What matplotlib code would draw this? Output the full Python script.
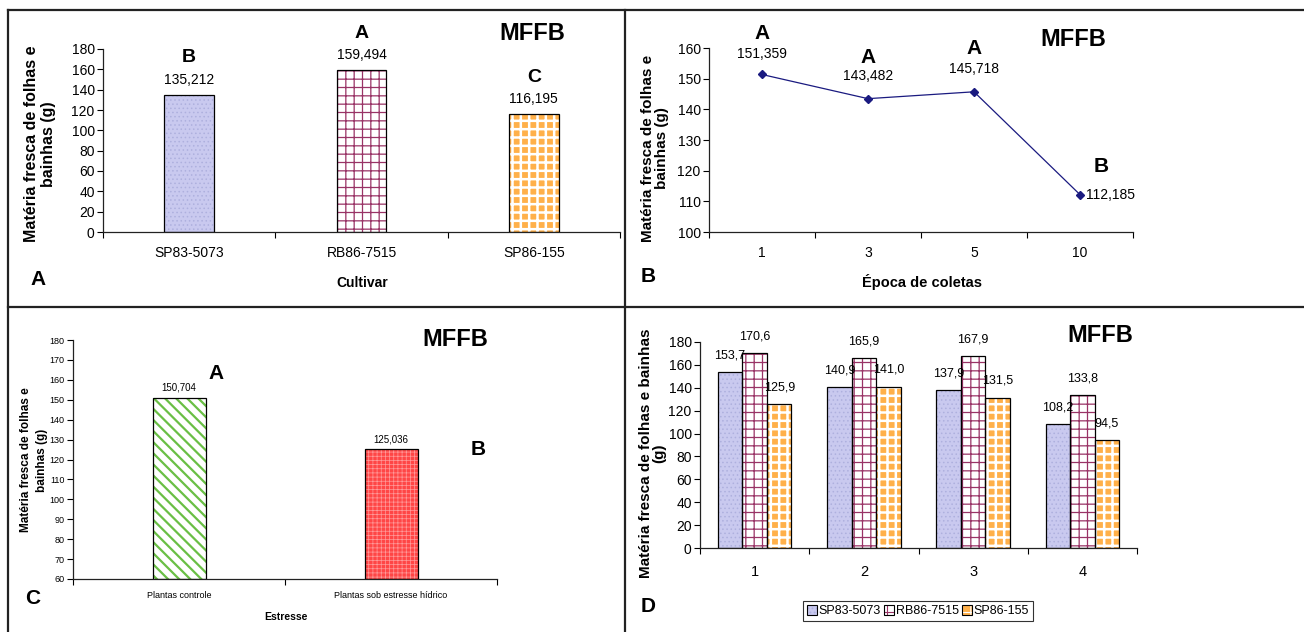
import matplotlib
matplotlib.use('Agg')
import matplotlib.pyplot as plt
from matplotlib.lines import Line2D
from matplotlib.patches import Patch
from matplotlib.legend_handler import HandlerTuple

plt.rcParams['font.family'] = ['Liberation Sans', 'DejaVu Sans']
plt.rcParams['hatch.linewidth'] = 0.8
NARROW = ['Liberation Sans Narrow', 'Liberation Sans', 'DejaVu Sans']

# data
cultivars = ['SP83-5073', 'RB86-7515', 'SP86-155']
mffb_cultivar = [135.212, 159.494, 116.195]
letters_cultivar = ['B', 'A', 'C']

epocas = ['1', '3', '5', '10']
mffb_epoca = [151.359, 143.482, 145.718, 112.185]
letters_epoca = ['A', 'A', 'A', 'B']

estresse = ['Plantas controle', 'Plantas sob estresse hídrico']
mffb_estresse = [150.704, 125.036]
letters_estresse = ['A', 'B']

grupos = ['1', '2', '3', '4']
mffb_sp83 = [153.7, 140.9, 137.9, 108.2]
mffb_rb86 = [170.6, 165.9, 167.9, 133.8]
mffb_sp86 = [125.9, 141.0, 131.5, 94.5]

W, H = 1304, 632
fig = plt.figure(figsize=(W / 100, H / 100), dpi=100)


def box(x0, y0, x1, y1):
    return [x0 / W, 1 - y1 / H, (x1 - x0) / W, (y1 - y0) / H]


def fx(x):
    return x / W


def fy(y):
    return 1 - y / H


def comma(v, d):
    return f'{v:.{d}f}'.replace('.', ',')


# styles: (face, hatch, hatch colour, hatch linewidth)
styles = {
    'SP83-5073': ('#c9c9ef', '....', '#aeb0de', 0.6),
    'RB86-7515': ('white', '++', '#993366', 0.9),
    'SP86-155': ('#ffb04a', '++', 'white', 1.8),
}


def set_hlw(p, hlw):
    try:
        p.set_hatch_linewidth(hlw)
    except AttributeError:
        pass


def hbar(ax, x, h, w, style, bottom=0):
    face, hatch, hcol, hlw = style
    bars = ax.bar(x, h, w, bottom=bottom, color=face, hatch=hatch, edgecolor=hcol,
                  linewidth=0, zorder=2)
    for b in bars:
        set_hlw(b, hlw)
    ax.bar(x, h, w, bottom=bottom, fill=False, edgecolor='black', linewidth=0.9, zorder=3)
    return bars


def excel_axes(ax, n, fs, family=None):
    ax.spines['top'].set_visible(False)
    ax.spines['right'].set_visible(False)
    for s in ('left', 'bottom'):
        ax.spines[s].set_linewidth(0.9)
        ax.spines[s].set_color('#222222')
    ax.set_xlim(-0.5, n - 0.5)
    ax.set_xticks([i - 0.5 for i in range(n + 1)])
    ax.set_xticklabels([])
    ax.tick_params(axis='x', which='major', length=4, direction='out', width=0.8)
    ax.set_xticks(range(n), minor=True)
    ax.tick_params(axis='x', which='minor', length=0, pad=10)
    ax.tick_params(axis='y', length=4, direction='out', width=0.8, labelsize=fs, pad=2)
    fam = family if family else plt.rcParams['font.family']
    for lab in ax.get_yticklabels():
        lab.set_family(fam)


# ---------------- panel A ----------------
axA = fig.add_axes(box(103, 49, 620, 232))
for i, c in enumerate(cultivars):
    hbar(axA, i, mffb_cultivar[i], 0.29, styles[c])
axA.set_ylim(0, 180)
axA.set_yticks(range(0, 181, 20))
excel_axes(axA, 3, 10)
axA.set_xticklabels(cultivars, minor=True, fontsize=10)
for i, v in enumerate(mffb_cultivar):
    axA.annotate(comma(v, 3), (i, v), xytext=(0, 10.5), textcoords='offset points',
                 ha='center', va='center', fontsize=10)
    axA.annotate(letters_cultivar[i], (i, v), xytext=(0, 26.5), textcoords='offset points',
                 ha='center', va='center', fontsize=14, fontweight='bold')
fig.text(fx(532), fy(33), 'MFFB', fontsize=17, fontweight='bold', ha='center', va='center')
fig.text(fx(38), fy(280), 'A', fontsize=15, fontweight='bold', ha='center', va='center')
fig.text(fx(362), fy(283), 'Cultivar', fontsize=10, fontweight='bold', ha='center', va='center')
fig.text(fx(40), fy(144), 'Matéria fresca de folhas e\nbainhas (g)', rotation=90,
         fontsize=11.5, fontweight='bold', ha='center', va='center', multialignment='center',
         linespacing=1.2)

# ---------------- panel B ----------------
axB = fig.add_axes(box(709, 48, 1133, 232))
axB.plot(range(len(epocas)), mffb_epoca, color='#1a1a80', lw=0.9, marker='D', ms=4, zorder=3)
axB.set_ylim(100, 160)
axB.set_yticks(range(100, 161, 10))
excel_axes(axB, 4, 10, NARROW)
axB.set_xticklabels(epocas, minor=True, fontsize=10, family=NARROW)
off_val = [(0, 15), (0, 16.5), (0, 16.5), (4, 0)]
off_let = [(0, 29.5), (0, 29.5), (0, 31), (10, 20)]
ha_val = ['center', 'center', 'center', 'left']
ha_let = ['center', 'center', 'center', 'left']
for i, v in enumerate(mffb_epoca):
    axB.annotate(comma(v, 3), (i, v), xytext=off_val[i], textcoords='offset points',
                 ha=ha_val[i], va='center', fontsize=10, family=NARROW)
    axB.annotate(letters_epoca[i], (i, v), xytext=off_let[i], textcoords='offset points',
                 ha=ha_let[i], va='center', fontsize=15, fontweight='bold', family=NARROW)
fig.text(fx(1073), fy(40), 'MFFB', fontsize=17, fontweight='bold', ha='center', va='center',
         family=NARROW)
fig.text(fx(648), fy(277), 'B', fontsize=15, fontweight='bold', ha='center', va='center')
fig.text(fx(922), fy(282), 'Época de coletas', fontsize=10.5, fontweight='bold', ha='center',
         va='center', family=NARROW)
fig.text(fx(655), fy(148), 'Matéria fresca de folhas e\nbainhas (g)', rotation=90,
         fontsize=11, fontweight='bold', ha='center', va='center', multialignment='center',
         linespacing=1.0)

# ---------------- panel C ----------------
axC = fig.add_axes(box(73, 340, 497, 579))
styleC = [('white', '\\\\\\', '#6abf45', 1.6), ('#ff4646', '++++', '#ff9a9a', 0.5)]
for i in range(len(estresse)):
    hbar(axC, i, mffb_estresse[i] - 60, 0.25, styleC[i], bottom=60)
axC.set_ylim(60, 180)
axC.set_yticks(range(60, 181, 10))
excel_axes(axC, 2, 6.5)
axC.set_xticklabels(estresse, minor=True, fontsize=6.5)
axC.tick_params(axis='x', which='minor', pad=9)
off_let_c = [(27, 18), (63, 0)]
for i, v in enumerate(mffb_estresse):
    axC.annotate(comma(v, 3), (i, v), xytext=(0, 7.5), textcoords='offset points',
                 ha='center', va='center', fontsize=7)
    axC.annotate(letters_estresse[i], (i, v), xytext=off_let_c[i], textcoords='offset points',
                 ha='center', va='center', fontsize=15, fontweight='bold')
fig.text(fx(455), fy(340), 'MFFB', fontsize=17, fontweight='bold', ha='center', va='center')
fig.text(fx(33), fy(598), 'C', fontsize=15, fontweight='bold', ha='center', va='center')
fig.text(fx(286), fy(617), 'Estresse', fontsize=7.5, fontweight='bold', ha='center', va='center')
fig.text(fx(34), fy(460), 'Matéria fresca de folhas e\nbainhas (g)', rotation=90,
         fontsize=8.5, fontweight='bold', ha='center', va='center', multialignment='center',
         linespacing=1.35)

# ---------------- panel D ----------------
axD = fig.add_axes(box(700, 342, 1137, 548))
w = 0.225
series = [('SP83-5073', mffb_sp83), ('RB86-7515', mffb_rb86), ('SP86-155', mffb_sp86)]
for k, (name, vals) in enumerate(series):
    xs = [i + (k - 1) * w for i in range(len(grupos))]
    hbar(axD, xs, vals, w, styles[name])
    for x, v in zip(xs, vals):
        axD.annotate(comma(v, 1), (x, v), xytext=(0, 12), textcoords='offset points',
                     ha='center', va='center', fontsize=9, family=NARROW)
axD.set_ylim(0, 180)
axD.set_yticks(range(0, 181, 20))
excel_axes(axD, 4, 10, NARROW)
axD.set_xticklabels(grupos, minor=True, fontsize=10.5, family=NARROW)
axD.tick_params(axis='x', which='minor', pad=12)
fig.text(fx(1100), fy(335), 'MFFB', fontsize=17, fontweight='bold', ha='center', va='center',
         family=NARROW)
fig.text(fx(648), fy(607), 'D', fontsize=15, fontweight='bold', ha='center', va='center')
fig.text(fx(653), fy(453), 'Matéria fresca de folhas e bainhas\n(g)', rotation=90,
         fontsize=11, fontweight='bold', ha='center', va='center', multialignment='center',
         linespacing=0.95)

handles = []
for name, _ in series:
    face, hatch, hcol, hlw = styles[name]
    inner = Patch(facecolor=face, hatch=hatch, edgecolor=hcol, linewidth=0)
    set_hlw(inner, hlw)
    outer = Patch(fill=False, edgecolor='black', linewidth=0.8)
    handles.append((inner, outer))
leg = fig.legend(handles, [n for n, _ in series], loc='center', bbox_to_anchor=(fx(918), fy(611)),
                 ncol=3, handlelength=0.8, handleheight=0.8, handletextpad=0.15,
                 columnspacing=0.25, borderpad=0.3, fancybox=False, frameon=True,
                 prop={'family': NARROW, 'size': 9},
                 handler_map={tuple: HandlerTuple(ndivide=1, pad=0)})
leg.get_frame().set_edgecolor('black')
leg.get_frame().set_linewidth(0.8)

# panel borders
lc = '#222222'
fig.add_artist(Line2D([fx(8), 1], [fy(10), fy(10)], color=lc, lw=1.6))
fig.add_artist(Line2D([fx(8), fx(8)], [fy(10), 0], color=lc, lw=1.6))
fig.add_artist(Line2D([fx(625), fx(625)], [fy(10), 0], color=lc, lw=1.6))
fig.add_artist(Line2D([fx(8), 1], [fy(307), fy(307)], color=lc, lw=1.6))

fig.savefig('out.png', dpi=100)
